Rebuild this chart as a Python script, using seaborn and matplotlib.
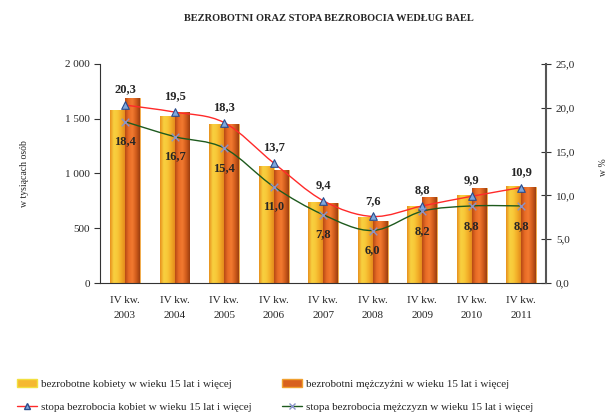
import numpy as np
import pandas as pd
import seaborn as sns
import matplotlib.pyplot as plt
from matplotlib.path import Path
from matplotlib.patches import PathPatch, Patch
from matplotlib.lines import Line2D
from matplotlib.colors import LinearSegmentedColormap
from matplotlib.ticker import FuncFormatter

lata = ['2003', '2004', '2005', '2006', '2007', '2008', '2009', '2010', '2011']
etykiety = ['IV kw.\n' + r for r in lata]
kobiety = [1580, 1528, 1452, 1066, 740, 600, 706, 801, 889]
mezczyzni = [1690, 1560, 1450, 1032, 730, 563, 785, 868, 877]
stopa_k = [20.3, 19.5, 18.3, 13.7, 9.4, 7.6, 8.8, 9.9, 10.9]
stopa_m = [18.4, 16.7, 15.4, 11.0, 7.8, 6.0, 8.2, 8.8, 8.8]

lab_bk = 'bezrobotne kobiety w wieku 15 lat i więcej'
lab_bm = 'bezrobotni mężczyźni w wieku 15 lat i więcej'
lab_sk = 'stopa bezrobocia kobiet w wieku 15 lat i więcej'
lab_sm = 'stopa bezrobocia mężczyzn w wieku 15 lat i więcej'

df = pd.DataFrame({
    'okres': etykiety * 2,
    'wartosc': kobiety + mezczyzni,
    'grupa': [lab_bk] * 9 + [lab_bm] * 9,
})

sns.set_style('white')
plt.rcParams['font.family'] = ['Liberation Serif', 'DejaVu Serif']

fig = plt.figure(figsize=(6.15, 4.17), dpi=100)
ax = fig.add_axes([0.163, 0.321, 0.725, 0.526])

sns.barplot(data=df, x='okres', y='wartosc', hue='grupa', order=etykiety,
            palette=['#F5B830', '#E86A28'], width=0.6, ax=ax, legend=False)

cm_k = LinearSegmentedColormap.from_list('k', ['#E8901E', '#F8D040', '#F8C838', '#F2AC28', '#E48C1C'])
cm_m = LinearSegmentedColormap.from_list('m', ['#B84A14', '#E86C26', '#F27A30', '#D05C1C', '#9C3E10'])
grad = np.linspace(0, 1, 64).reshape(1, -1)
n = len(lata)
for i, p in enumerate(ax.patches[:2 * n]):
    x0, y0 = p.get_x(), p.get_y()
    w, h = p.get_width(), p.get_height()
    cmap = cm_k if i < n else cm_m
    p.set_facecolor('none')
    p.set_edgecolor('#F2E040' if i < n else '#F0A030')
    p.set_linewidth(0.6)
    im = ax.imshow(grad, cmap=cmap, aspect='auto', extent=(x0, x0 + w, y0, y0 + h),
                   zorder=1.5, interpolation='bilinear')
    im.set_clip_path(p)

ax.set_xlim(-0.5, n - 0.5)
ax.set_ylim(0, 2000)
ax.set_yticks([0, 500, 1000, 1500, 2000])
ax.yaxis.set_major_formatter(FuncFormatter(lambda v, _: f'{int(v):,}'.replace(',', ' ')))
ax.set_xticks(range(n))
ax.set_xticklabels(etykiety, fontsize=8, linespacing=1.9)
ax.set_xticks(np.arange(-0.5, n, 1), minor=True)
ax.tick_params(axis='x', which='major', length=0, pad=9)
ax.tick_params(axis='x', which='minor', length=4, direction='out', color='#333333')
ax.tick_params(axis='y', length=4, direction='out', labelsize=8, color='#333333', left=True)
ax.set_xlabel('')
ax.set_ylabel('w tysiącach osób', fontsize=7, labelpad=26)
for s in ['top', 'right']:
    ax.spines[s].set_visible(False)
for s in ['left', 'bottom']:
    ax.spines[s].set_color('#333333')
    ax.spines[s].set_linewidth(0.8)

ax2 = ax.twinx()
ax2.set_ylim(0, 25)
ax2.set_yticks([0, 5, 10, 15, 20, 25])
ax2.yaxis.set_major_formatter(FuncFormatter(lambda v, _: f'{v:.1f}'.replace('.', ',')))
ax2.tick_params(axis='y', length=7, direction='inout', labelsize=8, color='#333333')
for s in ['top', 'left', 'bottom']:
    ax2.spines[s].set_visible(False)
ax2.spines['right'].set_color('#555555')
ax2.spines['right'].set_linewidth(1.5)
fig.text(0.982, 0.6, 'w %', rotation=90, ha='center', va='center', fontsize=7)


def gladka(axis, ys, color):
    xs = np.arange(len(ys), dtype=float)
    pts = np.column_stack([xs, np.asarray(ys, dtype=float)])
    ext = np.vstack([pts[0], pts, pts[-1]])
    verts = [pts[0]]
    codes = [Path.MOVETO]
    for i in range(len(pts) - 1):
        c1 = ext[i + 1] + (ext[i + 2] - ext[i]) / 6
        c2 = ext[i + 2] - (ext[i + 3] - ext[i + 1]) / 6
        verts += [c1, c2, ext[i + 2]]
        codes += [Path.CURVE4] * 3
    axis.add_patch(PathPatch(Path(verts, codes), facecolor='none', edgecolor=color,
                             linewidth=1.0, zorder=3))


gladka(ax2, stopa_k, '#FF2A2A')
gladka(ax2, stopa_m, '#1E5A1E')
xs = np.arange(n)
sns.scatterplot(x=xs, y=stopa_k, marker='^', s=30, color='#7FA8DC', edgecolor='#2A4C8C',
                linewidth=0.8, ax=ax2, zorder=4, legend=False)
sns.scatterplot(x=xs, y=stopa_m, marker='x', s=30, color='#8A94C8', linewidth=1.0,
                ax=ax2, zorder=4, legend=False)

for x, v in zip(xs, stopa_k):
    ax2.annotate(f'{v:.1f}'.replace('.', ','), (x, v), xytext=(0, 7), textcoords='offset points',
                 ha='center', va='bottom', fontsize=9, fontweight='bold')
for x, v in zip(xs, stopa_m):
    ax2.annotate(f'{v:.1f}'.replace('.', ','), (x, v), xytext=(0, -10), textcoords='offset points',
                 ha='center', va='top', fontsize=9, fontweight='bold')

fig.text(0.535, 0.955, 'BEZROBOTNI ORAZ STOPA BEZROBOCIA WEDŁUG BAEL', ha='center',
         va='center', fontsize=7.5, fontweight='bold')

handles = [
    Patch(facecolor='#F5B830', edgecolor='#F2E040', label=lab_bk),
    Line2D([], [], color='#FF2A2A', lw=1, marker='^', markersize=5, markerfacecolor='#7FA8DC',
           markeredgecolor='#2A4C8C', label=lab_sk),
    Patch(facecolor='#D8601E', edgecolor='#F0A030', label=lab_bm),
    Line2D([], [], color='#1E5A1E', lw=1, marker='x', markersize=5, markeredgecolor='#8A94C8',
           label=lab_sm),
]
fig.legend(handles=handles, loc='lower left', bbox_to_anchor=(0.012, -0.012), ncol=2,
           frameon=False, fontsize=8, handlelength=1.8, columnspacing=2.8, labelspacing=1.2,
           handletextpad=0.3)

fig.savefig('out.png', dpi=100)
